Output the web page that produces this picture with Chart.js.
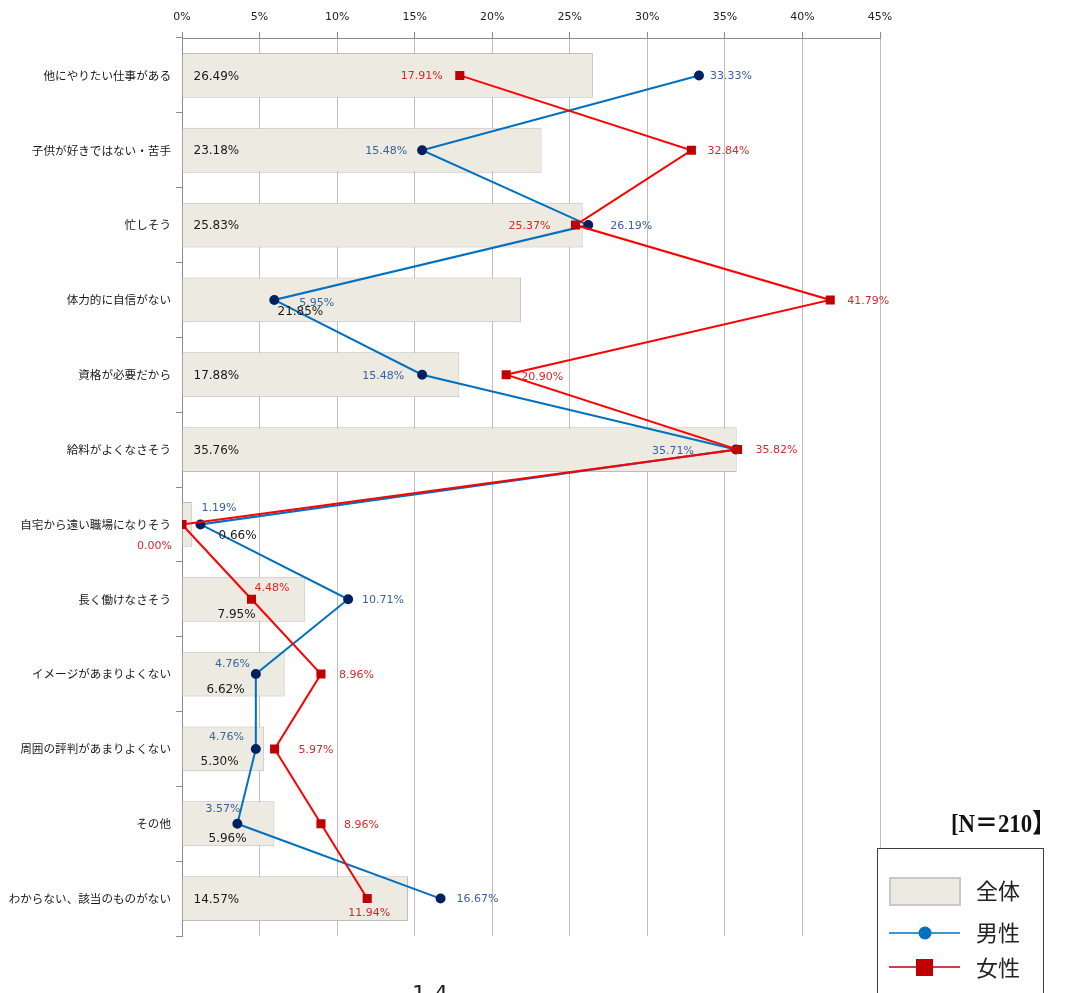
<!DOCTYPE html>
<html>
<head>
<meta charset="utf-8">
<script src="https://cdn.jsdelivr.net/npm/chart.js@4/dist/chart.umd.min.js"></script>
<style>
  html, body { margin: 0; padding: 0; background: #fff; }
  #wrap { width: 1073px; height: 993px; }
</style>
</head>
<body>
<div id="wrap"><canvas id="chart" width="1073" height="993"></canvas></div>
<script>
// chart values
const categories = [
    '他にやりたい仕事がある',
    '子供が好きではない・苦手',
    '忙しそう',
    '体力的に自信がない',
    '資格が必要だから',
    '給料がよくなさそう',
    '自宅から遠い職場になりそう',
    '長く働けなさそう',
    'イメージがあまりよくない',
    '周囲の評判があまりよくない',
    'その他',
    'わからない、該当のものがない'
];
const totalValues = [26.49, 23.18, 25.83, 21.85, 17.88, 35.76, 0.66, 7.95, 6.62, 5.30, 5.96, 14.57];
const maleValues = [33.33, 15.48, 26.19, 5.95, 15.48, 35.71, 1.19, 10.71, 4.76, 4.76, 3.57, 16.67];
const femaleValues = [17.91, 32.84, 25.37, 41.79, 20.90, 35.82, 0.00, 4.48, 8.96, 5.97, 8.96, 11.94];
const xTicks = [0, 5, 10, 15, 20, 25, 30, 35, 40, 45];
const seriesNames = ['全体', '男性', '女性'];
const sampleNote = '[N＝210】';

// where each value label sits: [align, dx, dy] from its anchor
const totalLabelPos = [
    ['left', 11, 0], ['left', 11, 0], ['left', 11, 0], ['left', 95, 11],
    ['left', 11, 0], ['left', 11, 0], ['left', 36, 10], ['left', 35, 15],
    ['left', 24, 15], ['left', 18, 12], ['left', 26, 14], ['left', 11, 0]
];
const maleLabelPos = [
    ['left', 11, 0], ['right', -15, 0], ['left', 22, 0], ['left', 25, 2],
    ['right', -18, 0], ['right', -42, 1], ['left', 1, -17], ['left', 14, 0],
    ['right', -6, -11], ['right', -12, -13], ['right', 3, -16], ['left', 16, 0]
];
const femaleLabelPos = [
    ['right', -17, 0], ['left', 16, 0], ['right', -25, 0], ['left', 17, 0],
    ['left', 15, 1], ['left', 18, 0], ['right', -10, 21], ['left', 3, -12],
    ['left', 18, 0], ['left', 24, 0], ['left', 23, 0], ['center', 2, 14]
];

const BAR_FILL = '#EDEAE1';
const BAR_EDGE = '#BDBDBD';
const MALE_LINE = '#0070C0';
const MALE_DOT = '#002060';
const FEMALE_LINE = '#FF0000';
const FEMALE_DOT = '#C00000';

Chart.defaults.font.family = "'DejaVu Sans', sans-serif";

const labelSets = [
    { index: 0, values: totalValues, pos: totalLabelPos, fromBase: true, color: '#1a1a1a', size: 12 },
    { index: 1, values: maleValues, pos: maleLabelPos, fromBase: false, color: '#3A62A0', size: 11 },
    { index: 2, values: femaleValues, pos: femaleLabelPos, fromBase: false, color: '#D42A2A', size: 11 }
];

const valueLabels = {
    id: 'valueLabels',
    afterDatasetsDraw(chart) {
        const ctx = chart.ctx;
        ctx.save();
        ctx.textBaseline = 'middle';
        labelSets.forEach(set => {
            const meta = chart.getDatasetMeta(set.index);
            ctx.fillStyle = set.color;
            ctx.font = set.size + "px 'DejaVu Sans'";
            meta.data.forEach((el, i) => {
                const [align, dx, dy] = set.pos[i];
                const ax = set.fromBase ? el.base : el.x;
                ctx.textAlign = align;
                ctx.fillText(set.values[i].toFixed(2) + '%', ax + dx, el.y + dy + 1);
            });
        });
        ctx.restore();
    }
};

const sideLegend = {
    id: 'sideLegend',
    afterDraw(chart) {
        const ctx = chart.ctx;
        ctx.save();

        // sample size note
        ctx.font = "bold 26px 'Liberation Serif', 'Noto Sans CJK JP'";
        ctx.fillStyle = '#111';
        ctx.textBaseline = 'middle';
        const w = ctx.measureText(sampleNote).width;
        ctx.save();
        ctx.translate(951, 825);
        ctx.scale(104 / w, 1);
        ctx.textAlign = 'left';
        ctx.fillText(sampleNote, 0, 0);
        ctx.restore();

        // legend box
        ctx.fillStyle = '#fff';
        ctx.fillRect(877, 848, 166, 160);
        ctx.strokeStyle = '#404040';
        ctx.lineWidth = 1;
        ctx.strokeRect(877.5, 848.5, 166, 160);

        ctx.fillStyle = BAR_FILL;
        ctx.fillRect(890, 878, 70, 27);
        ctx.strokeStyle = '#C8C8C8';
        ctx.lineWidth = 2;
        ctx.strokeRect(890, 878, 70, 27);

        ctx.lineWidth = 1.5;
        ctx.strokeStyle = MALE_LINE;
        ctx.beginPath(); ctx.moveTo(889, 933); ctx.lineTo(960, 933); ctx.stroke();
        ctx.fillStyle = MALE_LINE;
        ctx.beginPath(); ctx.arc(925, 933, 6.5, 0, Math.PI * 2); ctx.fill();

        ctx.strokeStyle = FEMALE_DOT;
        ctx.beginPath(); ctx.moveTo(889, 967); ctx.lineTo(960, 967); ctx.stroke();
        ctx.fillStyle = FEMALE_DOT;
        ctx.fillRect(916, 959, 17, 17);

        ctx.fillStyle = '#222';
        ctx.font = "22px 'Noto Sans CJK JP'";
        ctx.textAlign = 'left';
        ctx.fillText(seriesNames[0], 976, 891);
        ctx.fillText(seriesNames[1], 976, 933);
        ctx.fillText(seriesNames[2], 976, 968);

        // page number peeking in at the bottom
        ctx.font = "22px 'DejaVu Sans'";
        ctx.textBaseline = 'top';
        ctx.fillText('1-4', 412, 984);
        ctx.restore();
    }
};

new Chart(document.getElementById('chart'), {
    type: 'bar',
    data: {
        labels: categories,
        datasets: [
            {
                label: seriesNames[0],
                data: totalValues,
                backgroundColor: BAR_FILL,
                borderColor: BAR_EDGE,
                borderWidth: 1,
                barPercentage: 0.6,
                categoryPercentage: 1,
                order: 2
            },
            {
                type: 'line',
                indexAxis: 'y',
                label: seriesNames[1],
                data: maleValues,
                borderColor: MALE_LINE,
                borderWidth: 2,
                backgroundColor: MALE_DOT,
                pointBackgroundColor: MALE_DOT,
                pointBorderColor: MALE_DOT,
                pointRadius: 4,
                pointStyle: 'circle',
                tension: 0,
                order: 1
            },
            {
                type: 'line',
                indexAxis: 'y',
                label: seriesNames[2],
                data: femaleValues,
                borderColor: FEMALE_LINE,
                borderWidth: 2,
                backgroundColor: FEMALE_DOT,
                pointBackgroundColor: FEMALE_DOT,
                pointBorderColor: FEMALE_DOT,
                pointRadius: 5,
                pointStyle: 'rect',
                tension: 0,
                order: 0
            }
        ]
    },
    options: {
        indexAxis: 'y',
        responsive: false,
        animation: false,
        layout: { padding: { left: 0, right: 193, top: 0, bottom: 57 } },
        plugins: {
            legend: { display: false },
            tooltip: { enabled: false }
        },
        scales: {
            x: {
                type: 'linear',
                position: 'top',
                min: 0,
                max: 45,
                afterBuildTicks: s => { s.ticks = xTicks.map(v => ({ value: v })); },
                afterFit: s => { s.height = 38; },
                ticks: {
                    callback: v => v + '%',
                    color: '#222',
                    font: { size: 11 },
                    padding: 8,
                    maxRotation: 0
                },
                grid: { color: '#BEBEBE', lineWidth: 1, tickLength: 6, tickColor: '#8c8c8c' },
                border: { color: '#8c8c8c' }
            },
            y: {
                type: 'category',
                offset: true,
                afterFit: s => { s.width = 182; },
                ticks: {
                    color: '#1a1a1a',
                    font: { family: "'Noto Sans CJK JP'", size: 11.6 },
                    padding: 5
                },
                grid: { offset: true, drawOnChartArea: false, drawTicks: true, tickLength: 6, color: '#8c8c8c' },
                border: { color: '#8c8c8c' }
            }
        }
    },
    plugins: [valueLabels, sideLegend]
});
</script>
</body>
</html>
